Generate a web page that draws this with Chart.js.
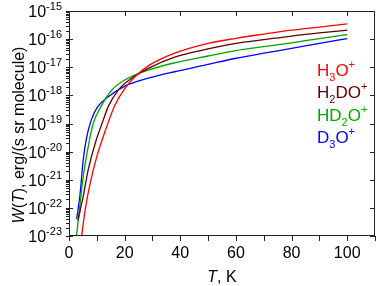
<!DOCTYPE html>
<html>
<head>
<meta charset="utf-8">
<script src="https://cdn.jsdelivr.net/npm/chart.js@4.4.1/dist/chart.umd.min.js"></script>
<style>
  body { margin: 0; background: #fff; }
  #wrap { width: 377px; height: 286px; }
</style>
</head>
<body>
<div id="wrap"><canvas id="chart"></canvas></div>
<script>
// values: T in K, W as log10 of erg/(s sr molecule)
const seriesNames = ['H3O+', 'H2DO+', 'HD2O+', 'D3O+'];
const seriesColors = ['#ff0000', '#5e0000', '#00a400', '#0000ff'];

const tempH3O = [4.55, 5.8, 7.6, 10, 12.3, 14.7, 16.5, 20.1, 23.7, 28.5, 38, 50, 60, 70, 80, 90, 100];
const logWH3O = [-23.0, -22.08, -21.13, -20.18, -19.47, -18.8, -18.35, -17.75, -17.34, -16.95, -16.5, -16.15, -15.97, -15.82, -15.68, -15.57, -15.46];

const tempH2DO = [3.25, 4.2, 5.1, 6.9, 9.4, 12.3, 14.1, 17.7, 22.5, 28.5, 38, 50, 60, 70, 80, 90, 100];
const logWH2DO = [-22.45, -22.0, -21.6, -20.65, -19.71, -18.88, -18.4, -17.81, -17.39, -17.04, -16.64, -16.35, -16.15, -16.02, -15.89, -15.78, -15.68];

const tempHD2O = [2.7, 4, 5.1, 6.9, 8.7, 11.5, 15.4, 20.1, 28.5, 38, 50, 60, 70, 80, 90, 100];
const logWHD2O = [-23.0, -21.84, -20.9, -19.83, -19.0, -18.4, -17.81, -17.45, -17.1, -16.84, -16.6, -16.41, -16.27, -16.13, -15.98, -15.84];

const tempD3O = [2.75, 4.0, 5.1, 6.4, 8.0, 10.2, 14.1, 20.1, 28.5, 38, 50, 60, 70, 80, 90, 100];
const logWD3O = [-22.4, -21.49, -20.3, -19.47, -18.88, -18.42, -18.05, -17.67, -17.39, -17.16, -16.9, -16.68, -16.5, -16.33, -16.15, -15.98];

const xTickLabels = [0, 20, 40, 60, 80, 100];
const yDecades = [-23, -22, -21, -20, -19, -18, -17, -16, -15];

const temps = [tempH3O, tempH2DO, tempHD2O, tempD3O];
const logWs = [logWH3O, logWH2DO, logWHD2O, logWD3O];

const FONT = '"Liberation Sans", Arial, sans-serif';

// draws a run of text pieces: {t, size, dy, italic}
function drawRuns(c, runs, x, y) {
  let cx = x;
  for (const r of runs) {
    c.font = (r.italic ? 'italic ' : '') + r.size + 'px ' + FONT;
    c.fillText(r.t, cx, y + (r.dy || 0));
    cx += c.measureText(r.t).width;
  }
  return cx;
}
function runsWidth(c, runs) {
  let w = 0;
  for (const r of runs) {
    c.font = (r.italic ? 'italic ' : '') + r.size + 'px ' + FONT;
    w += c.measureText(r.t).width;
  }
  return w;
}

// chemistry label: digits as subscripts, + as superscript
function formulaRuns(name) {
  return name.split('').map(ch => {
    if (/[0-9]/.test(ch)) return { t: ch, size: 11, dy: 5 };
    if (ch === '+') return { t: ch, size: 11, dy: -8 };
    return { t: ch, size: 17 };
  });
}

const framePlugin = {
  id: 'frame',
  afterDraw(chart) {
    const c = chart.ctx;
    const a = chart.chartArea;
    const xs = chart.scales.x, ys = chart.scales.y;
    c.save();
    c.strokeStyle = '#222';
    c.lineWidth = 1;
    c.strokeRect(a.left + 0.5, a.top + 0.5, a.right - a.left - 1, a.bottom - a.top - 1);

    c.beginPath();
    // left axis: decades + minor ticks, right axis: decades
    yDecades.forEach((e, i) => {
      const py = Math.round(ys.getPixelForValue(Math.pow(10, e))) + 0.5;
      c.moveTo(a.left - 3, py); c.lineTo(a.left + 4, py);
      c.moveTo(a.right - 5, py); c.lineTo(a.right, py);
      if (i < yDecades.length - 1) {
        for (let k = 2; k <= 9; k++) {
          const my = Math.round(ys.getPixelForValue(k * Math.pow(10, e))) + 0.5;
          c.moveTo(a.left - 3, my); c.lineTo(a.left + 1, my);
        }
      }
    });
    // bottom ticks every 10, top ticks every 20
    for (let t = 0; t <= 110; t += 10) {
      const px = Math.round(xs.getPixelForValue(t)) + 0.5;
      c.moveTo(px, a.bottom); c.lineTo(px, a.bottom + 5);
      if (t % 20 === 0 && t > 0) { c.moveTo(px, a.top); c.lineTo(px, a.top + 5); }
    }
    c.stroke();

    c.fillStyle = '#000';
    c.textBaseline = 'alphabetic';
    // x tick labels
    c.font = '16px ' + FONT;
    c.textAlign = 'center';
    xTickLabels.forEach(t => c.fillText(String(t), xs.getPixelForValue(t), 257.5));
    // y tick labels 10^e
    c.textAlign = 'left';
    yDecades.forEach(e => {
      const py = ys.getPixelForValue(Math.pow(10, e));
      const runs = [{ t: '10', size: 16, dy: 6 }, { t: '-' + Math.abs(e), size: 11, dy: -1 }];
      drawRuns(c, runs, 62 - runsWidth(c, runs), py);
    });
    // x title
    const xt = [{ t: 'T', size: 16, italic: true }, { t: ', K', size: 16 }];
    drawRuns(c, xt, (a.left + a.right) / 2 - runsWidth(c, xt) / 2, 282);
    // y title, rotated
    const yt = [{ t: 'W', size: 16, italic: true }, { t: '(', size: 16 }, { t: 'T', size: 16, italic: true },
                { t: '), erg/(s sr molecule)', size: 16 }];
    c.save();
    c.translate(24, 135);
    c.rotate(-Math.PI / 2);
    drawRuns(c, yt, -runsWidth(c, yt) / 2, 0);
    c.restore();

    // legend text in series colours
    const baselines = [76, 98, 121, 143];
    chart.data.datasets.forEach((ds, i) => {
      c.fillStyle = ds.borderColor;
      drawRuns(c, formulaRuns(ds.label), 317, baselines[i]);
    });
    c.restore();
  }
};

const chart = new Chart(document.getElementById('chart'), {
  type: 'scatter',
  data: {
    datasets: seriesNames.map((name, i) => ({
      label: name,
      data: temps[i].map((t, j) => ({ x: t, y: Math.pow(10, logWs[i][j]) })),
      showLine: true,
      borderColor: seriesColors[i],
      backgroundColor: seriesColors[i],
      borderWidth: 1.3,
      pointRadius: 0,
      cubicInterpolationMode: 'monotone'
    }))
  },
  options: {
    responsive: true,
    maintainAspectRatio: false,
    animation: false,
    devicePixelRatio: 1,
    layout: { padding: { left: 69, right: 2, top: 11, bottom: 50 } },
    plugins: { legend: { display: false }, tooltip: { enabled: false } },
    scales: {
      x: { type: 'linear', min: 0, max: 110, display: false },
      y: { type: 'logarithmic', min: 1e-23, max: 1e-15, display: false }
    }
  },
  plugins: [framePlugin]
});
</script>
</body>
</html>
